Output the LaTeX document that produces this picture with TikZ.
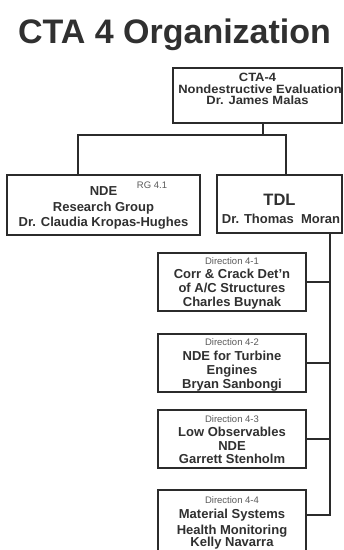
\documentclass[tikz,border=0pt]{standalone}
\usepackage{fontspec}
\setmainfont{Liberation Sans}
\newfontfamily\widesans{Liberation Sans}[FakeStretch=1.08]
\definecolor{ink}{HTML}{2B2B2B}
\definecolor{txt}{HTML}{303030}
\begin{document}
\begin{tikzpicture}[x=1pt,y=-1pt,
  box/.style={draw=ink,line width=1.5pt,fill=white,inner sep=0,rectangle},
  wire/.style={draw=ink,line width=1.3pt},
  ln/.style={anchor=base,inner sep=0,text=txt,font=\fontsize{13}{13}\selectfont\bfseries},
  lnw/.style={anchor=base,inner sep=0,text=txt,font=\widesans\fontsize{12}{12}\selectfont\bfseries},
  small/.style={anchor=base,inner sep=0,text=txt!80,font=\fontsize{9.5}{9.5}\selectfont},
  ttl/.style={anchor=base,inner sep=0,text=txt,font=\fontsize{34}{34}\selectfont\bfseries}]
\useasboundingbox[fill=white] (0,0) rectangle (344,550);

% heading
\node[ttl] (title) at (174.5,43) {CTA 4 Organization};

% boxes
\node[box,minimum width=169pt,minimum height=55pt] (cta) at (257.5,95.5) {};
\node[box,minimum width=193pt,minimum height=60pt] (nde) at (103.5,205) {};
\node[box,minimum width=125pt,minimum height=58pt] (tdl) at (279.5,204) {};
\node[box,minimum width=148pt,minimum height=58pt] (d1) at (232,282) {};
\node[box,minimum width=148pt,minimum height=58pt] (d2) at (232,363) {};
\node[box,minimum width=148pt,minimum height=58pt] (d3) at (232,439) {};
\node[box,minimum width=148pt,minimum height=62pt] (d4) at (232,521) {};

% connectors
\coordinate (ctadrop) at (263,123);
\coordinate (bus) at (263,135);
\coordinate (busl) at (78,135);
\coordinate (busr) at (286,135);
\coordinate (spine) at (330,515);
\draw[wire] (ctadrop) -- (bus);
\draw[wire] (busl |- nde.north) -- (busl) -- (busr) -- (busr |- tdl.north);
\draw[wire] (spine |- tdl.south) -- (spine) -- (d4.east |- spine);
\draw[wire] (d1.east) -- (d1.east -| spine);
\draw[wire] (d2.east) -- (d2.east -| spine);
\draw[wire] (d3.east) -- (d3.east -| spine);

% CTA-4
\node[lnw] (cta1) at (257.5,81.5) {CTA-4};
\node[lnw] (cta2) at (260,93) {Nondestructive Evaluation};
\node[lnw] (cta3) at (257.5,104.5) {Dr. James Malas};

% NDE research group
\node[ln] (nde1) at (103.5,195) {NDE};
\node[small] (nde0) at (152,188) {RG 4.1};
\node[ln] (nde2) at (103.5,211) {Research Group};
\node[ln] (nde3) at (103.5,226) {Dr. Claudia Kropas-Hughes};

% TDL
\node[ln,font=\fontsize{16.5}{16.5}\selectfont\bfseries] (tdl1) at (279.5,205) {TDL};
\node[ln] (tdl2) at (281,223) {Dr. Thomas\ \ Moran};

% Direction 4-1
\node[small] (d1a) at (232,264) {Direction 4-1};
\node[ln] (d1b) at (232,278) {Corr \& Crack Det'n};
\node[ln] (d1c) at (232,292.5) {of A/C Structures};
\node[ln] (d1d) at (232,306) {Charles Buynak};

% Direction 4-2
\node[small] (d2a) at (232,345) {Direction 4-2};
\node[ln] (d2b) at (232,360) {NDE for Turbine};
\node[ln] (d2c) at (232,374) {Engines};
\node[ln] (d2d) at (232,388) {Bryan Sanbongi};

% Direction 4-3
\node[small] (d3a) at (232,422.5) {Direction 4-3};
\node[ln] (d3b) at (232,436.5) {Low Observables};
\node[ln] (d3c) at (232,450) {NDE};
\node[ln] (d3d) at (232,463) {Garrett Stenholm};

% Direction 4-4
\node[small] (d4a) at (232,503) {Direction 4-4};
\node[ln] (d4b) at (232,518) {Material Systems};
\node[ln] (d4c) at (232,534.5) {Health Monitoring};
\node[ln] (d4d) at (232,546.5) {Kelly Navarra};
\end{tikzpicture}
\end{document}
